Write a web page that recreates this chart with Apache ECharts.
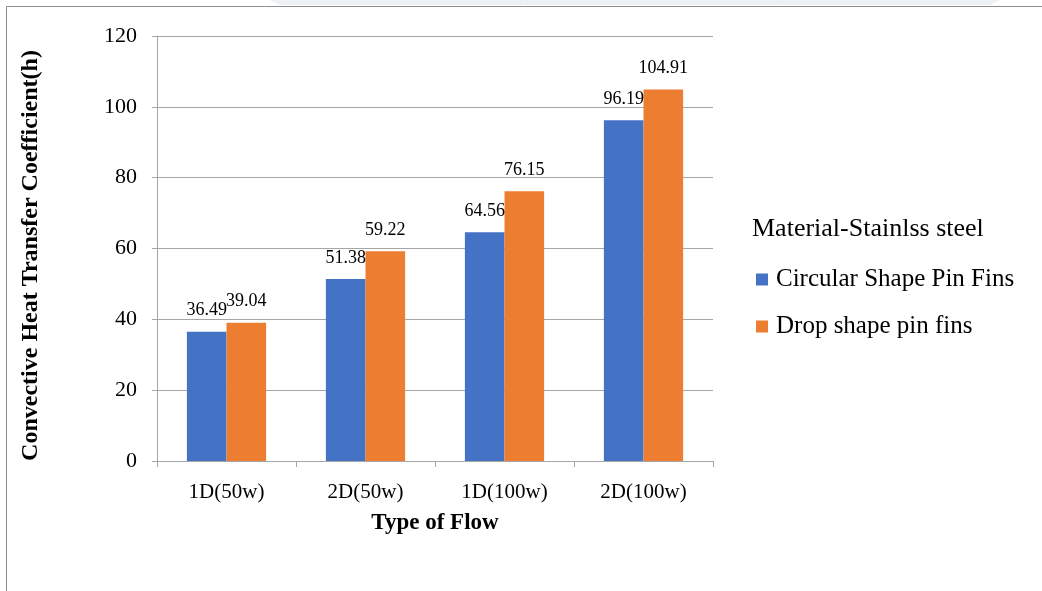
<!DOCTYPE html>
<html>
<head>
<meta charset="utf-8">
<script src="https://cdn.jsdelivr.net/npm/echarts@6/dist/echarts.min.js"></script>
<style>
html,body{margin:0;padding:0;background:#fff;}
#chart{width:1042px;height:591px;}
</style>
</head>
<body>
<div id="chart"></div>
<script>
const categories = ['1D(50w)', '2D(50w)', '1D(100w)', '2D(100w)'];
const circularFins = [36.49, 51.38, 64.56, 96.19];
const dropFins = [39.04, 59.22, 76.15, 104.91];
const seriesNames = ['Circular Shape Pin Fins', 'Drop shape pin fins'];
const legendTitle = 'Material-Stainlss steel';
const xTitle = 'Type of Flow';
const yTitle = 'Convective Heat Transfer Coefficient(h)';

const FONT = "Liberation Serif";
const chart = echarts.init(document.getElementById('chart'), null, {renderer: 'canvas'});

const labelStyle = {
  show: true, position: 'top', distance: 12,
  color: '#000', fontFamily: FONT, fontSize: 18,
  formatter: p => p.value.toFixed(2)
};

chart.setOption({
  animation: false,
  backgroundColor: '#fff',
  textStyle: {fontFamily: FONT, color: '#000'},
  graphic: [
    {type: 'polygon', silent: true, z: -10,
     shape: {points: [[270,0],[1000,0],[990,5],[280,5]]},
     style: {fill: '#eef1f3'}},
    {type: 'rect', silent: true, z: -5,
     shape: {x: 6.5, y: 6.5, width: 1200, height: 800},
     style: {fill: 'none', stroke: '#8c8c8c', lineWidth: 1}},
    {type: 'text', x: 752, y: 229,
     style: {text: legendTitle, font: '26px ' + FONT, fill: '#000', align: 'left', verticalAlign: 'middle'}},
    {type: 'text', x: 31, y: 255.5, rotation: Math.PI / 2,
     style: {text: yTitle, font: 'bold 24px ' + FONT, fill: '#000', align: 'center', verticalAlign: 'middle'}}
  ],
  grid: {left: 157, right: 329, top: 36, bottom: 130},
  legend: {
    orient: 'vertical', left: 756, top: 267, itemGap: 22, padding: 0,
    itemWidth: 12, itemHeight: 12, icon: 'rect',
    textStyle: {fontFamily: FONT, fontSize: 25, color: '#000', lineHeight: 24, padding: [0, 0, 0, 3]},
    data: seriesNames
  },
  xAxis: {
    type: 'category', data: categories,
    name: xTitle, nameLocation: 'middle', nameGap: 51,
    nameTextStyle: {fontFamily: FONT, fontSize: 23, fontWeight: 'bold', color: '#000'},
    axisLine: {lineStyle: {color: '#a6a6a6'}},
    axisTick: {show: true, length: 6, lineStyle: {color: '#a6a6a6'}},
    axisLabel: {margin: 21, fontFamily: FONT, fontSize: 21, color: '#000'}
  },
  yAxis: {
    type: 'value', min: 0, max: 120, interval: 20,
    axisLine: {show: true, lineStyle: {color: '#a6a6a6'}},
    axisTick: {show: true, length: 5, lineStyle: {color: '#a6a6a6'}},
    axisLabel: {margin: 20, fontFamily: FONT, fontSize: 22, color: '#000'},
    splitLine: {lineStyle: {color: '#a6a6a6'}}
  },
  series: [
    {name: seriesNames[0], type: 'bar', data: circularFins, barGap: '0%', barCategoryGap: '43%',
     itemStyle: {color: '#4472C4'}, label: labelStyle},
    {name: seriesNames[1], type: 'bar', data: dropFins, barGap: '0%', barCategoryGap: '43%',
     itemStyle: {color: '#ED7D31'}, label: labelStyle}
  ]
});
</script>
</body>
</html>
